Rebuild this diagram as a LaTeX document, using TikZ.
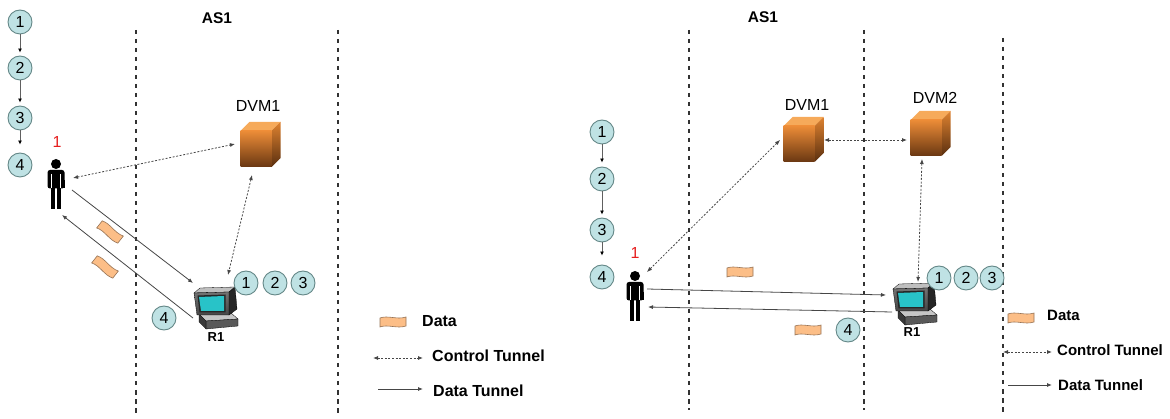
\documentclass[tikz,border=0pt]{standalone}
\usepackage{fontspec}
\setmainfont{Liberation Sans}
\usetikzlibrary{arrows.meta,calc}

\definecolor{stepfill}{RGB}{191,226,228}
\definecolor{stepline}{RGB}{100,135,135}
\definecolor{lane}{RGB}{50,50,50}
\definecolor{tunnel}{RGB}{70,70,70}
\definecolor{flagfill}{RGB}{252,190,135}
\definecolor{flagline}{RGB}{150,115,85}
\definecolor{cubetop}{RGB}{246,170,90}
\definecolor{cubehi}{RGB}{236,140,55}
\definecolor{cubelo}{RGB}{105,55,18}
\definecolor{cubeside}{RGB}{222,130,48}
\definecolor{screen}{RGB}{40,195,200}
\definecolor{markred}{RGB}{230,30,30}

\tikzset{
  stepnode/.style={circle, draw=stepline, line width=0.9pt, fill=stepfill,
    minimum size=24pt, inner sep=0pt, font=\fontsize{16}{16}\selectfont},
  steparrow/.style={draw=gray!75!black, line width=0.8pt,
    -{Latex[length=4pt,width=4pt,color=black]}},
  iconbox/.style={rectangle, inner sep=0pt, minimum size=30pt},
  lanestyle/.style={draw=lane, line width=1.6pt, dash pattern=on 4.5pt off 4.5pt},
  ctrl/.style={draw=tunnel, line width=0.8pt, dash pattern=on 2pt off 1.6pt,
    {Latex[length=5pt,width=4pt]}-{Latex[length=5pt,width=4pt]}},
  dtun/.style={draw=tunnel, line width=0.8pt, -{Latex[length=5pt,width=4pt]}},
  heading/.style={font=\bfseries\fontsize{15.5}{16}\selectfont},
  dvmlabel/.style={font=\fontsize{16}{16}\selectfont},
  rlabel/.style={font=\bfseries\fontsize{13}{13}\selectfont},
  legendtext/.style={font=\bfseries\fontsize{16}{16}\selectfont, anchor=west, inner sep=0pt},
  legendsmall/.style={font=\bfseries\fontsize{15}{15}\selectfont, anchor=west, inner sep=0pt},
  redmark/.style={text=markred, font=\fontsize{16}{16}\selectfont},
  % standing user figure, origin at the waist
  pics/person/.style={code={
    \fill[black] (0,-24) circle (5pt);
    \fill[black, rounded corners=2.5pt] (-8.5,-18) rectangle (8.5,0.5);
    \fill[black] (-8.5,-8) rectangle (8.5,0.5);
    \fill[white] (-4.9,-14) rectangle (-3.7,0.6);
    \fill[white] (3.7,-14) rectangle (4.9,0.6);
    \fill[black] (-5,0) rectangle (-1.3,21);
    \fill[black] (1.3,0) rectangle (5,21);
  }},
  % DVM box, origin at the centre of the front face
  pics/dvmcube/.style={code={
    \fill[cubetop] (-15.5,-18) -- (-6.5,-27) -- (24.5,-27) -- (15.5,-18) -- cycle;
    \shade[top color=cubeside, bottom color=cubelo!85!black]
      (15.5,-18) -- (24.5,-27) -- (24.5,9) -- (15.5,18) -- cycle;
    \shade[top color=cubehi, bottom color=cubelo] (-15.5,-18) rectangle (15.5,18);
  }},
  % router drawn as a desktop computer, origin at the centre of the screen bezel
  pics/computer/.style={code={
    \filldraw[fill=gray!45, draw=black, line width=0.3pt]
      (-14,12) -- (18,11) -- (25,17) -- (-7,19) -- cycle;
    \filldraw[fill=gray!70!black, draw=black, line width=0.3pt]
      (-7,19) -- (25,17) -- (25,24) -- (-7,27) -- cycle;
    \filldraw[fill=gray!45!black, draw=black, line width=0.3pt]
      (-14,12) -- (-7,19) -- (-7,27) -- (-14,20) -- cycle;
    \filldraw[fill=gray!50, draw=black, line width=0.3pt]
      (-19,-9) -- (-13,-14) -- (22,-15) -- (16,-10) -- cycle;
    \filldraw[fill=gray!30!black, draw=black, line width=0.3pt]
      (16,-10) -- (22,-15) -- (24,7) -- (16,13) -- cycle;
    \shade[top color=gray!90!black, bottom color=gray!55!black]
      (-19,-9) -- (16,-10) -- (16,13) -- (-16,13) -- cycle;
    \draw[black, line width=0.3pt] (-19,-9) -- (16,-10) -- (16,13) -- (-16,13) -- cycle;
    \fill[black!85] (-15.5,-6.5) -- (12.5,-7.5) -- (12.5,10.5) -- (-13.5,10.5) -- cycle;
    \fill[screen] (-14,-5) -- (11,-6) -- (11,9) -- (-12,9) -- cycle;
  }},
  % data packet flag
  pics/dataflag/.style={code={
    \filldraw[fill=flagfill, draw=flagline, line width=0.6pt]
      (-13,-4) .. controls (-5,-7) and (4,-2) .. (13,-5) -- (13,4)
      .. controls (4,7) and (-5,2) .. (-13,5) -- cycle;
  }},
}

\begin{document}
\begin{tikzpicture}[x=1pt, y=-1pt]
\useasboundingbox (0,0) rectangle (1170,419);

% ---------------- left scenario ----------------
\node[heading] (lhead) at (217,18) {AS1};
\draw[lanestyle] (136,30) -- (136,415);
\draw[lanestyle] (338,30) -- (338,415);

\node[stepnode] (ls1) at (20,22) {1};
\node[stepnode] (ls2) at (20,68) {2};
\node[stepnode] (ls3) at (20,118) {3};
\node[stepnode] (ls4) at (20,165) {4};
\draw[steparrow, shorten >=3pt] (ls1) -- (ls2);
\draw[steparrow, shorten >=3pt] (ls2) -- (ls3);
\draw[steparrow, shorten >=8pt] (ls3) -- (ls4);

\node[redmark] (lmark) at (57,142) {1};
\node[iconbox] (lp) at (56,188) {};
\pic at (lp) {person};

\node[dvmlabel] (ldl) at (258,106) {DVM1};
\node[iconbox] (ld) at (256,149) {};
\pic at (ld) {dvmcube};

\node[iconbox] (lc) at (213,302) {};
\pic at (lc) {computer};
\node[rlabel] (lrl) at (216,337) {R1};

\node[stepnode] (lr1) at (246,283) {1};
\node[stepnode] (lr2) at (275,283) {2};
\node[stepnode] (lr3) at (303,283) {3};
\node[stepnode] (lr4) at (164,318) {4};

\draw[ctrl] ($(lp)+(17,-10)$) -- ($(ld)+(-21,-5)$);
\draw[ctrl] ($(ld)+(-4,26)$) -- ($(lc)+(15,-27)$);
\draw[dtun] ($(lp)+(16,2)$) -- ($(lc)+(-20,-19)$);
\draw[dtun] ($(lc)+(-20,16)$) -- ($(lp)+(6,27)$);

\pic[rotate=-38] at (110,232) {dataflag};
\pic[rotate=-38] at (105,267) {dataflag};

% left legend
\pic at (393,322) {dataflag};
\node[legendtext] (ldata) at (422,321) {Data};
\coordinate (lca) at (373,358);
\coordinate (lcb) at (423,358);
\draw[ctrl] (lca) -- (lcb);
\node[legendtext] (lctrl) at (432,356) {Control Tunnel};
\coordinate (lda) at (378,389);
\coordinate (ldb) at (423,389);
\draw[dtun] (lda) -- (ldb);
\node[legendtext] (ldtun) at (433,391) {Data Tunnel};

% ---------------- right scenario ----------------
\node[heading] (rhead) at (763,17) {AS1};
\draw[lanestyle] (689,30) -- (689,410);
\draw[lanestyle] (864,30) -- (864,410);
\draw[lanestyle] (1003,38) -- (1003,415);

\node[stepnode] (rs1) at (602,132) {1};
\node[stepnode] (rs2) at (602,179) {2};
\node[stepnode] (rs3) at (602,230) {3};
\node[stepnode] (rs4) at (602,277) {4};
\draw[steparrow, shorten >=4pt] (rs1) -- (rs2);
\draw[steparrow, shorten >=3pt] (rs2) -- (rs3);
\draw[steparrow, shorten >=9pt] (rs3) -- (rs4);

\node[redmark] (rmark) at (635,253) {1};
\node[iconbox] (rp) at (635,300) {};
\pic at (rp) {person};

\node[dvmlabel] (rd1l) at (807,105) {DVM1};
\node[iconbox] (rd1) at (799,144) {};
\pic at (rd1) {dvmcube};
\node[dvmlabel] (rd2l) at (935,98) {DVM2};
\node[iconbox] (rd2) at (926,138) {};
\pic at (rd2) {dvmcube};

\node[iconbox] (rc) at (912,298) {};
\pic at (rc) {computer};
\node[rlabel] (rrl) at (912,332) {R1};

\node[stepnode] (rr1) at (939,278) {1};
\node[stepnode] (rr2) at (966,278) {2};
\node[stepnode] (rr3) at (992,278) {3};
\node[stepnode] (rr4) at (848,330) {4};

\draw[ctrl] ($(rp)+(12,-28)$) -- ($(rd1)+(-19,-4)$);
\draw[ctrl] ($(rd1)+(25,-4)$) -- ($(rd2)+(-19,2)$);
\draw[ctrl] ($(rd2)+(-4,21)$) -- ($(rc)+(6,-16)$);
\draw[dtun] ($(rp)+(12,-11)$) -- ($(rc)+(-26,-3)$);
\draw[dtun] ($(rc)+(-20,14)$) -- ($(rp)+(13,7)$);

\pic at (740,272) {dataflag};
\pic at (808,330) {dataflag};

% right legend
\pic at (1021,318) {dataflag};
\node[legendsmall] (rdata) at (1047,315) {Data};
\coordinate (rca) at (1003,352);
\coordinate (rcb) at (1052,352);
\draw[ctrl] (rca) -- (rcb);
\node[legendsmall] (rctrl) at (1057,350) {Control Tunnel};
\coordinate (rda) at (1008,385);
\coordinate (rdb) at (1052,385);
\draw[dtun] (rda) -- (rdb);
\node[legendsmall] (rdtun) at (1058,385) {Data Tunnel};
\end{tikzpicture}
\end{document}
